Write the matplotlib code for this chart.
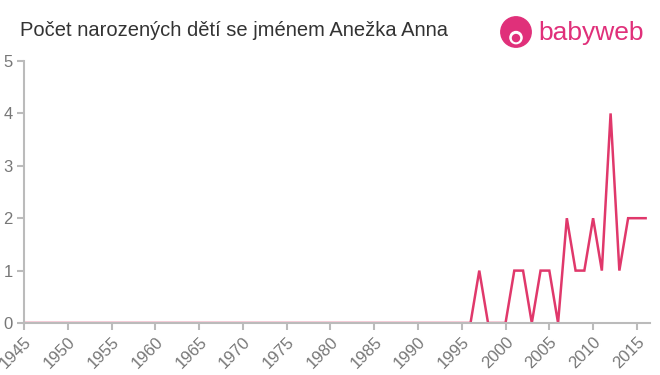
import matplotlib.pyplot as plt
from matplotlib.patches import Circle

plt.rcParams["font.family"] = ["Liberation Sans", "DejaVu Sans"]

years = list(range(1945, 2017))
counts = [0] * 52 + [1, 0, 0, 0, 1, 1, 0, 1, 1, 0, 2, 1, 1, 2, 1, 4, 1, 2, 2, 2]
xticks = list(range(1945, 2016, 5))
yticks = [0, 1, 2, 3, 4, 5]

fig = plt.figure(figsize=(6.6, 3.75), dpi=100)
ax = fig.add_axes([24 / 660, 1 - 323 / 375, 626 / 660, 262 / 375])

ax.plot(years, counts, color="#e0386b", lw=1.8, solid_joinstyle="miter")
ax.set_xlim(1945, 2016.5)
ax.set_ylim(0, 5)
ax.set_xticks(xticks)
ax.set_xticklabels([str(y) for y in xticks], rotation=45, ha="right", rotation_mode="anchor")
ax.set_yticks(yticks)
for s in ["top", "right"]:
    ax.spines[s].set_visible(False)
for s in ["left", "bottom"]:
    ax.spines[s].set_color("#bbbbbb")
    ax.spines[s].set_linewidth(1.5)
ax.tick_params(colors="#bbbbbb", labelcolor="#777777", labelsize=12, length=5, width=1.5)
ax.tick_params(axis="y", pad=3)
ax.tick_params(axis="x", pad=3)

fig.text(20 / 660, 1 - 31 / 375, "Počet narozených dětí se jménem Anežka Anna",
         fontsize=14.5, color="#333333", va="center")

# babyweb logo
lax = fig.add_axes([500 / 660, 1 - 48 / 375, 32 / 660, 32 / 375])
lax.set_xlim(-1, 1)
lax.set_ylim(-1, 1)
lax.set_aspect("equal")
lax.axis("off")
lax.add_patch(Circle((0, 0), 0.95, color="#e0307a"))
lax.add_patch(Circle((0, -0.35), 0.38, color="white"))
lax.add_patch(Circle((0, -0.38), 0.22, color="#e0307a"))
fig.text(538 / 660, 1 - 33 / 375, "babyweb", fontsize=19, color="#e0307a", va="center")

fig.savefig("out.png", dpi=100)
